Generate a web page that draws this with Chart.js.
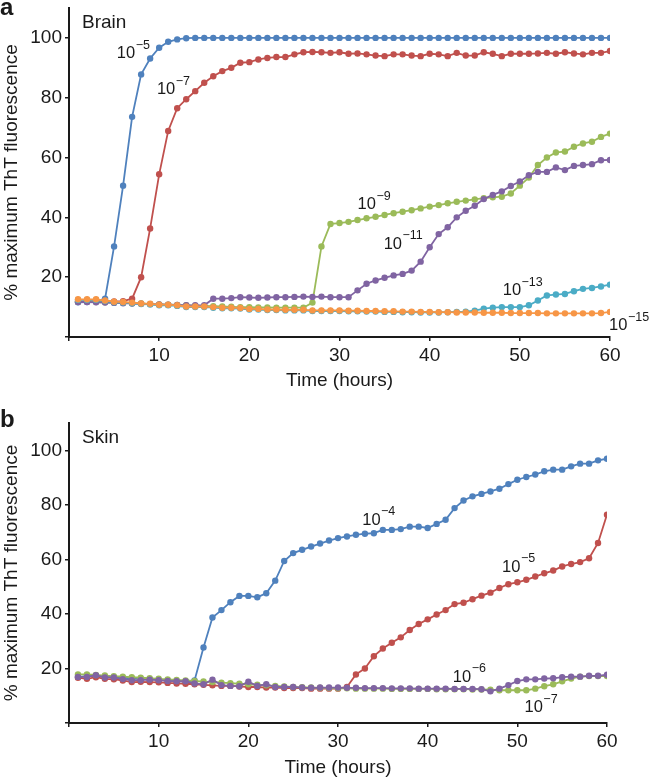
<!DOCTYPE html>
<html>
<head>
<meta charset="utf-8">
<script src="https://cdn.jsdelivr.net/npm/chart.js@4.4.1/dist/chart.umd.min.js"></script>
<style>
  html, body { margin: 0; padding: 0; background: #fff; }
  canvas { display: block; }
</style>
</head>
<body>
<canvas id="brainChart" width="652" height="400"></canvas>
<canvas id="skinChart" width="652" height="379"></canvas>
<script>
// time points (hours)
const hours = [1, 2, 3, 4, 5, 6, 7, 8, 9, 10, 11, 12, 13, 14, 15, 16, 17, 18, 19, 20,
  21, 22, 23, 24, 25, 26, 27, 28, 29, 30, 31, 32, 33, 34, 35, 36, 37, 38, 39, 40,
  41, 42, 43, 44, 45, 46, 47, 48, 49, 50, 51, 52, 53, 54, 55, 56, 57, 58, 59, 60];

const xTicks = [0, 10, 20, 30, 40, 50, 60];
const yTicks = [0, 20, 40, 60, 80, 100];

// panel a - brain dilutions
const brainE5 = [11.6, 11.7, 11.9, 12.8, 30.3, 50.6, 73.6, 87.8, 93.1, 96.7,
  98.7, 99.5, 99.9, 100, 100, 100, 100, 100, 100, 100,
  100, 100, 100, 100, 100, 100, 100, 100, 100, 100,
  100, 100, 100, 100, 100, 100, 100, 100, 100, 100,
  100, 100, 100, 100, 100, 100, 100, 100, 100, 100,
  100, 100, 100, 100, 100, 100, 100, 100, 100, 100];
const brainE7 = [11.8, 11.9, 12.0, 12.0, 11.9, 12.0, 12.8, 20.0, 36.3, 54.4,
  68.9, 76.5, 79.5, 82.2, 85.0, 87.2, 88.9, 90.0, 91.7, 91.9,
  92.8, 93.3, 93.6, 93.6, 94.5, 95.2, 95.3, 95.2, 95.0, 95.2,
  94.7, 94.8, 94.5, 94.1, 93.9, 94.5, 94.5, 94.1, 93.9, 94.7,
  94.5, 93.9, 95.0, 94.1, 94.1, 95.2, 94.7, 93.9, 94.7, 94.7,
  94.7, 94.8, 95.0, 94.7, 95.2, 94.8, 94.5, 95.0, 95.0, 95.6];
const brainE9 = [11.8, 11.8, 11.7, 11.6, 11.5, 11.4, 11.3, 11.2, 11.0, 10.9,
  10.8, 10.7, 10.6, 10.5, 10.4, 10.3, 10.2, 10.1, 10.0, 10.0,
  9.9, 9.9, 9.8, 9.8, 9.8, 9.8, 11.5, 30.3, 37.8, 38.1,
  38.5, 39.1, 39.7, 40.2, 40.8, 41.4, 41.9, 42.4, 43.0, 43.6,
  44.1, 44.7, 45.2, 45.6, 46.0, 46.4, 46.7, 46.9, 48.0, 50.6,
  53.3, 57.5, 60.0, 61.7, 62.0, 63.6, 64.7, 65.3, 66.9, 68.0];
const brainE11 = [11.7, 11.7, 11.6, 11.5, 11.4, 11.3, 11.2, 11.1, 11.0, 10.9,
  10.8, 10.7, 10.6, 10.6, 10.6, 12.8, 12.8, 13.0, 13.3, 13.2,
  13.1, 13.2, 13.3, 13.3, 13.4, 13.5, 13.4, 13.5, 13.3, 13.3,
  13.3, 15.6, 17.8, 18.9, 19.8, 20.6, 21.1, 22.2, 25.2, 30.0,
  34.4, 36.7, 40.0, 42.2, 43.9, 46.1, 47.5, 48.7, 50.5, 52.0,
  54.1, 55.2, 55.2, 56.7, 55.8, 57.2, 57.5, 57.8, 59.1, 59.2];
const brainE13 = [12.4, 12.4, 12.4, 12.0, 11.6, 11.5, 11.3, 11.0, 10.9, 10.6,
  10.6, 10.4, 10.0, 10.0, 10.0, 9.8, 9.6, 9.6, 9.5, 9.2,
  9.2, 9.0, 9.0, 8.9, 8.9, 8.9, 8.7, 8.7, 8.7, 8.7,
  8.6, 8.6, 8.5, 8.5, 8.4, 8.4, 8.3, 8.3, 8.2, 8.2,
  8.2, 8.3, 8.4, 8.5, 8.8, 9.5, 9.8, 10.0, 10.0, 10.0,
  10.6, 12.2, 13.9, 14.2, 14.4, 15.3, 16.1, 16.4, 16.9, 17.5];
const brainE15 = [12.6, 12.6, 12.6, 12.2, 11.8, 11.7, 11.5, 11.2, 11.1, 10.8,
  10.8, 10.6, 10.2, 10.2, 10.2, 10.0, 9.8, 9.8, 9.7, 9.4,
  9.4, 9.2, 9.2, 9.1, 9.1, 9.1, 8.9, 8.9, 8.9, 8.9,
  8.8, 8.8, 8.7, 8.7, 8.6, 8.6, 8.5, 8.5, 8.4, 8.4,
  8.3, 8.3, 8.2, 8.2, 8.2, 8.1, 8.1, 8.1, 8.0, 8.0,
  8.0, 8.0, 7.9, 7.9, 7.9, 7.9, 7.9, 7.9, 8.0, 8.4];

// panel b - skin dilutions
const skinE4 = [16.9, 17.2, 17.4, 17.0, 16.8, 16.6, 16.4, 16.2, 16.0, 15.8,
  15.6, 15.4, 15.2, 15.6, 27.7, 38.7, 41.4, 44.3, 46.6, 46.6,
  46.1, 47.6, 52.2, 59.4, 62.3, 63.5, 64.7, 65.8, 66.9, 67.8,
  68.4, 69.0, 69.4, 69.6, 70.8, 70.8, 71.1, 72.0, 72.0, 71.5,
  73.0, 74.5, 78.8, 81.6, 83.1, 84.0, 84.9, 85.9, 87.6, 89.2,
  90.2, 91.1, 92.3, 92.9, 92.9, 94.1, 95.1, 95.1, 96.3, 96.9];
const skinE5 = [16.6, 16.2, 16.8, 16.2, 16.0, 15.6, 15.0, 15.1, 15.0, 14.9,
  14.7, 14.5, 14.4, 14.2, 14.0, 13.8, 13.6, 13.6, 13.4, 13.2,
  13.2, 13.0, 13.0, 12.8, 12.8, 12.8, 12.6, 12.6, 12.6, 12.6,
  13.2, 17.8, 20.0, 24.5, 27.3, 29.4, 31.4, 34.1, 36.3, 38.0,
  39.8, 41.4, 43.6, 44.1, 45.4, 46.7, 47.8, 49.5, 50.9, 51.6,
  52.5, 53.7, 54.9, 55.9, 57.4, 58.3, 59.0, 60.4, 66.0, 76.4];
const skinE6 = [16.9, 16.9, 17.5, 16.7, 16.7, 16.1, 15.7, 15.7, 15.9, 15.7,
  15.4, 15.3, 15.3, 14.5, 14.2, 15.9, 13.9, 13.6, 13.5, 15.1,
  13.6, 14.2, 13.2, 13.2, 13.2, 13.0, 12.9, 13.0, 13.0, 13.0,
  12.9, 12.9, 12.8, 12.8, 12.8, 12.7, 12.7, 12.7, 12.6, 12.6,
  12.6, 12.6, 12.5, 12.5, 12.5, 12.4, 11.6, 12.6, 13.9, 15.4,
  16.0, 16.0, 16.3, 16.4, 16.8, 17.0, 17.0, 17.3, 17.3, 17.7];
const skinE7 = [17.8, 17.8, 17.6, 17.4, 17.2, 17.0, 16.8, 16.6, 16.4, 16.2,
  16.0, 15.8, 15.6, 15.4, 15.2, 15.0, 14.8, 14.6, 14.4, 14.2,
  14.0, 13.8, 13.6, 13.4, 13.2, 13.1, 13.0, 12.9, 12.8, 12.7,
  12.7, 12.6, 12.6, 12.6, 12.6, 12.5, 12.5, 12.5, 12.5, 12.5,
  12.4, 12.4, 12.4, 12.4, 12.3, 12.3, 12.2, 12.0, 12.0, 12.0,
  12.0, 12.6, 13.5, 14.2, 15.3, 16.3, 17.0, 17.2, 17.2, 17.2];

// dilution labels, anchored in data units (left edge, baseline)
const brainNotes = [
  { exp: '\u22125', x: 5.3, y: 93.3 },
  { exp: '\u22127', x: 9.75, y: 81.1 },
  { exp: '\u22129', x: 32.0, y: 42.8 },
  { exp: '\u221211', x: 34.9, y: 29.5 },
  { exp: '\u221213', x: 48.1, y: 13.9 },
  { exp: '\u221215', x: 59.9, y: 2.2 }
];
const skinNotes = [
  { exp: '\u22124', x: 32.7, y: 72.7 },
  { exp: '\u22125', x: 48.3, y: 55.5 },
  { exp: '\u22126', x: 42.8, y: 15.1 },
  { exp: '\u22127', x: 50.8, y: 4.0 }
];

const FONT = '"Liberation Sans", Arial, Helvetica, sans-serif';
const ink = '#1a1a1a';
const colors = {
  blue: '#4f81bd', red: '#c0504d', green: '#9bbb59',
  purple: '#8064a2', cyan: '#4bacc6', orange: '#f79646'
};

const toPoints = (vals) => hours.map((h, i) => ({ x: h, y: vals[i] }));

const series = (vals, color, order) => ({
  data: toPoints(vals),
  borderColor: color,
  backgroundColor: color,
  pointBackgroundColor: color,
  pointBorderColor: color,
  pointBorderWidth: 0,
  pointRadius: 3.2,
  borderWidth: 1.8,
  tension: 0,
  order: order
});

const textPlugin = {
  id: 'panelText',
  afterDatasetsDraw(chart, args, opts) {
    const { ctx, chartArea, scales } = chart;
    ctx.save();
    ctx.fillStyle = ink;
    ctx.textAlign = 'left';
    ctx.textBaseline = 'alphabetic';
    ctx.font = `bold 24px ${FONT}`;
    ctx.fillText(opts.letter, 0, opts.letterY);

    ctx.font = `19px ${FONT}`;
    ctx.textBaseline = 'middle';
    ctx.fillText(opts.tissue, chartArea.left + 13, chartArea.top + 15);

    ctx.textBaseline = 'alphabetic';
    opts.notes.forEach(n => {
      const px = scales.x.getPixelForValue(n.x);
      const py = scales.y.getPixelForValue(n.y);
      ctx.font = `16.5px ${FONT}`;
      ctx.fillText('10', px, py);
      const w = ctx.measureText('10').width;
      ctx.font = `12.5px ${FONT}`;
      ctx.fillText(n.exp, px + w + 0.5, py - 9.4);
    });
    ctx.restore();
  }
};

function makeOptions(cfg) {
  return {
    responsive: false,
    animation: false,
    layout: { padding: { top: cfg.top, right: cfg.right, left: 0, bottom: 0 } },
    plugins: {
      legend: { display: false },
      tooltip: { enabled: false },
      panelText: { letter: cfg.letter, letterY: cfg.letterY, tissue: cfg.tissue, notes: cfg.notes }
    },
    scales: {
      x: {
        type: 'linear',
        min: 0,
        max: 60,
        afterBuildTicks: (axis) => { axis.ticks = xTicks.map(v => ({ value: v })); },
        afterFit: (axis) => {
          axis.height = cfg.xHeight;
          axis.paddingLeft = 0;
          axis.paddingRight = 0;
        },
        border: { color: ink, width: 2 },
        grid: { drawOnChartArea: false, drawTicks: true, tickLength: 4, tickColor: ink, lineWidth: 1.5 },
        ticks: {
          color: ink, font: { family: FONT, size: 19 }, padding: 3,
          maxRotation: 0, autoSkip: false,
          callback: (v) => v === 0 ? '' : v
        },
        title: {
          display: true, text: 'Time (hours)', color: ink,
          font: { family: FONT, size: 19 }, padding: { top: 0, bottom: cfg.xTitlePad }
        }
      },
      y: {
        min: 0,
        max: 110,
        afterBuildTicks: (axis) => { axis.ticks = yTicks.map(v => ({ value: v })); },
        afterFit: (axis) => {
          axis.width = 69;
          axis.paddingTop = 0;
          axis.paddingBottom = 0;
        },
        border: { color: ink, width: 2 },
        grid: { drawOnChartArea: false, drawTicks: true, tickLength: 4, tickColor: ink, lineWidth: 1.5 },
        ticks: {
          color: ink, font: { family: FONT, size: 19 }, padding: 3,
          callback: (v) => v === 0 ? '' : v
        },
        title: {
          display: true, text: '% maximum ThT fluorescence', color: ink,
          font: { family: FONT, size: 19 }, padding: 0
        }
      }
    }
  };
}

new Chart(document.getElementById('brainChart'), {
  type: 'line',
  data: {
    datasets: [
      series(brainE15, colors.orange, 0),
      series(brainE13, colors.cyan, 1),
      series(brainE11, colors.purple, 2),
      series(brainE9, colors.green, 3),
      series(brainE7, colors.red, 4),
      series(brainE5, colors.blue, 5)
    ]
  },
  options: makeOptions({ top: 8, right: 42, xHeight: 63, xTitlePad: 8,
    letter: 'a', letterY: 15, tissue: 'Brain', notes: brainNotes }),
  plugins: [textPlugin]
});

new Chart(document.getElementById('skinChart'), {
  type: 'line',
  data: {
    datasets: [
      series(skinE6, colors.purple, 0),
      series(skinE7, colors.green, 1),
      series(skinE5, colors.red, 2),
      series(skinE4, colors.blue, 3)
    ]
  },
  options: makeOptions({ top: 23, right: 45, xHeight: 56, xTitlePad: 0,
    letter: 'b', letterY: 27, tissue: 'Skin', notes: skinNotes }),
  plugins: [textPlugin]
});
</script>
</body>
</html>
